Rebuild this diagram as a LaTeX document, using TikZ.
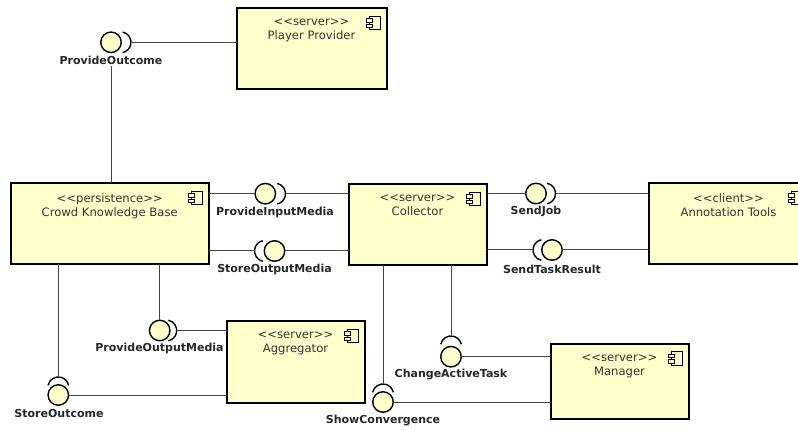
\documentclass[tikz,border=0pt]{standalone}
\usepackage{fontspec}
\setmainfont{DejaVu Sans}
\definecolor{compfill}{HTML}{FFFFCB}
\definecolor{wiregray}{HTML}{444444}
\definecolor{comptext}{HTML}{333333}
\tikzset{
    comp/.style={draw=black, fill=compfill, line width=2pt, inner sep=0pt, outer sep=0pt},
    comptitle/.style={font=\fontsize{11.6}{14}\selectfont, text=comptext, align=center, inner sep=0pt, below=10pt},
    ball/.style={circle, draw=black, fill=compfill, line width=1.4pt, minimum size=20.5pt, inner sep=0pt, outer sep=0pt},
    iflabel/.style={font=\fontsize{11}{12}\selectfont\bfseries, text=black!85, inner sep=1pt},
    wire/.style={draw=wiregray, line width=1pt},
    socket/.pic={\draw[black, line width=1.4pt] (-10.5,0) ++(-78:10.5) arc (-78:78:10.5);},
    compicon/.pic={
        \draw[black, line width=0.9pt, fill=compfill] (-17,7.5) rectangle (-6,21);
        \draw[black, line width=0.9pt, fill=compfill] (-20,10) rectangle (-14,13.5);
        \draw[black, line width=0.9pt, fill=compfill] (-20,15.5) rectangle (-14,19);
    }
}
\begin{document}
\begin{tikzpicture}[x=1pt, y=-1pt]
    \useasboundingbox (0,0) rectangle (798,430);
    \clip (0,0) rectangle (798,430);
    % components
    \node[comp, minimum width=150pt, minimum height=81pt] (player) at (311.5,49) {};
    \node[comp, minimum width=198pt, minimum height=81pt] (ckb) at (109.7,224) {};
    \node[comp, minimum width=138pt, minimum height=81pt] (collector) at (417.5,225) {};
    \node[comp, minimum width=160pt, minimum height=81pt] (tools) at (728.5,224) {};
    \node[comp, minimum width=138pt, minimum height=81pt] (aggregator) at (295.5,362) {};
    \node[comp, minimum width=138pt, minimum height=75pt] (manager) at (619.5,381.7) {};
    \node[comptitle] (playerText) at (player.north) {<{}<server>{}>\\Player Provider};
    \node[comptitle] (ckbText) at (ckb.north) {<{}<persistence>{}>\\Crowd Knowledge Base};
    \node[comptitle] (collectorText) at (collector.north) {<{}<server>{}>\\Collector};
    \node[comptitle] (toolsText) at (tools.north) {<{}<client>{}>\\Annotation Tools};
    \node[comptitle] (aggregatorText) at (aggregator.north) {<{}<server>{}>\\Aggregator};
    \node[comptitle] (managerText) at (manager.north) {<{}<server>{}>\\Manager};
    \pic at (player.north east) {compicon};
    \pic at (ckb.north east) {compicon};
    \pic at (collector.north east) {compicon};
    \pic at (tools.north east) {compicon};
    \pic at (aggregator.north east) {compicon};
    \pic at (manager.north east) {compicon};
    % interfaces
    \coordinate (outcomeEnd) at (131,42.3);
    \coordinate (inputEnd) at (285.5,193.7);
    \coordinate (outputEnd) at (254.5,251);
    \coordinate (jobEnd) at (555.5,193.5);
    \coordinate (resultEnd) at (533,250);
    \coordinate (taskEnd) at (451,336);
    \coordinate (convEnd) at (383,384);
    \coordinate (storeEnd) at (58.3,377);
    \coordinate (mediaEnd) at (176.7,330.5);
    \node[ball] (outcomeBall) at (111,42.3) {};
    \node[ball] (inputBall) at (265.3,193.7) {};
    \node[ball] (outputBall) at (274.5,251) {};
    \node[ball] (jobBall) at (536,193.5) {};
    \node[ball] (resultBall) at (552,250) {};
    \node[ball] (taskBall) at (451,356.7) {};
    \node[ball] (convBall) at (383,402) {};
    \node[ball] (storeBall) at (58.3,395) {};
    \node[ball] (mediaBall) at (159.7,330.5) {};
    \pic at (outcomeEnd) {socket};
    \pic at (inputEnd) {socket};
    \pic[rotate=180] at (outputEnd) {socket};
    \pic at (jobEnd) {socket};
    \pic[rotate=180] at (resultEnd) {socket};
    \pic[rotate=90] at (taskEnd) {socket};
    \pic[rotate=90] at (convEnd) {socket};
    \pic[rotate=90] at (storeEnd) {socket};
    \pic at (mediaEnd) {socket};
    \node[iflabel] (outcomeText) at (111,60.5) {ProvideOutcome};
    \node[iflabel] (inputText) at (275,212) {ProvideInputMedia};
    \node[iflabel] (outputText) at (274.5,269) {StoreOutputMedia};
    \node[iflabel] (jobText) at (536,211) {SendJob};
    \node[iflabel] (resultText) at (552,269) {SendTaskResult};
    \node[iflabel] (taskText) at (451,374.5) {ChangeActiveTask};
    \node[iflabel] (convText) at (383,421) {ShowConvergence};
    \node[iflabel] (storeText) at (59,413.5) {StoreOutcome};
    \node[iflabel] (mediaText) at (159.5,348.5) {ProvideOutputMedia};
    % connectors
    \draw[wire] (player.west |- outcomeEnd) -- (outcomeEnd);
    \draw[wire] (ckb.north -| outcomeBall) -- (outcomeText.south);
    \draw[wire] (ckb.east |- inputBall) -- (inputBall.west);
    \draw[wire] (inputEnd) -- (collector.west |- inputEnd);
    \draw[wire] (ckb.east |- outputEnd) -- (outputEnd);
    \draw[wire] (outputBall.east) -- (collector.west |- outputBall);
    \draw[wire] (collector.east |- jobBall) -- (jobBall.west);
    \draw[wire] (jobEnd) -- (tools.west |- jobEnd);
    \draw[wire] (collector.east |- resultEnd) -- (resultEnd);
    \draw[wire] (resultBall.east) -- (tools.west |- resultBall);
    \draw[wire] (collector.south -| taskEnd) -- (taskEnd);
    \draw[wire] (taskBall.east) -- (manager.west |- taskBall);
    \draw[wire] (collector.south -| convEnd) -- (convEnd);
    \draw[wire] (convBall.east) -- (manager.west |- convBall);
    \draw[wire] (ckb.south -| storeEnd) -- (storeEnd);
    \draw[wire] (storeBall.east) -- (aggregator.west |- storeBall);
    \draw[wire] (ckb.south -| mediaBall) -- (mediaBall.north);
    \draw[wire] (mediaEnd) -- (aggregator.west |- mediaEnd);
\end{tikzpicture}
\end{document}
